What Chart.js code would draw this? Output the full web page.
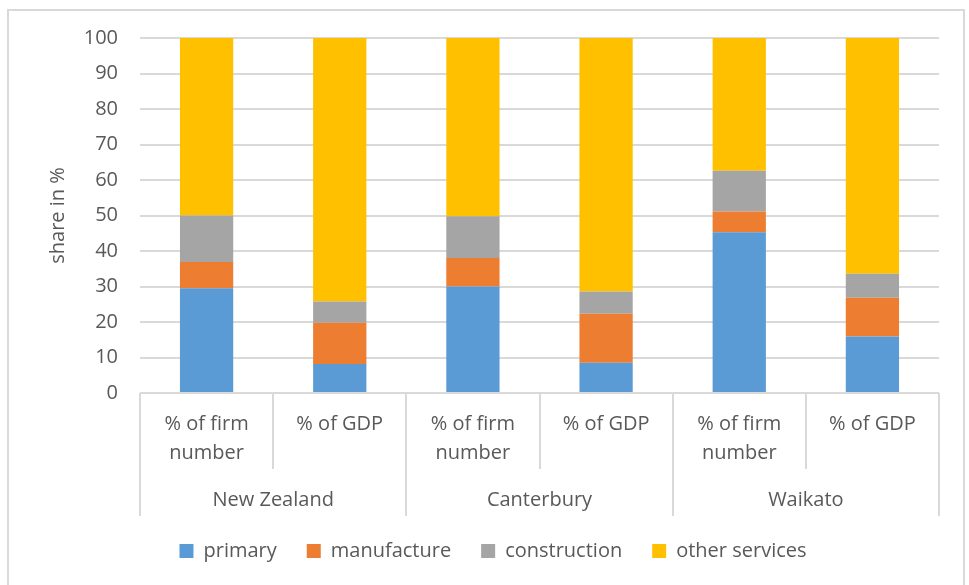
<!DOCTYPE html>
<html>
<head>
<meta charset="utf-8">
<script src="https://cdn.jsdelivr.net/npm/chart.js@4.4.0/dist/chart.umd.min.js"></script>
<style>
  html, body { margin: 0; padding: 0; background: #fff; }
  #wrap { position: relative; width: 969px; height: 585px; }
  #frame { position: absolute; left: 7px; top: 9px; width: 958px; height: 600px; border: 2px solid #d9d9d9; box-sizing: border-box; }
  canvas { position: absolute; left: 0; top: 0; }
</style>
</head>
<body>
<div id="wrap">
  <div id="frame"></div>
  <canvas id="myChart" width="969" height="585"></canvas>
</div>
<script>
const groups = ["New Zealand", "Canterbury", "Waikato"];
const measures = [["% of firm", "number"], ["% of GDP"]];
const seriesNames = ["primary", "manufacture", "construction", "other services"];

const primary = [29.5, 8.2, 30.0, 8.5, 45.3, 15.9];
const manufacture = [7.4, 11.6, 8.0, 13.8, 5.8, 10.9];
const construction = [13.1, 6.0, 11.8, 6.3, 11.5, 6.8];
const otherServices = [50.0, 74.2, 50.2, 71.4, 37.4, 66.4];

const yTicks = [0, 10, 20, 30, 40, 50, 60, 70, 80, 90, 100];

const colors = ["#5B9BD5", "#ED7D31", "#A5A5A5", "#FFC000"];
const textColor = "#595959";
const lineColor = "#d9d9d9";
const FONT = "'Open Sans'";

// one label per bar: group + measure
const labels = [];
groups.forEach((g) => measures.forEach((m) => labels.push(g + " " + m.join(" "))));

// draws the two-level category axis (measure row, then group row) with separators
const groupAxis = {
  id: "groupAxis",
  afterDraw(chart) {
    const { ctx, chartArea, scales } = chart;
    const x = scales.x;
    const top = chartArea.bottom;
    const mid = top + 76;
    const bottom = top + 123;
    const per = measures.length;
    const n = labels.length;
    const edge = (i) => {
      if (i === 0) return chartArea.left;
      if (i === n) return chartArea.right;
      return (x.getPixelForValue(i - 1) + x.getPixelForValue(i)) / 2;
    };

    ctx.save();
    ctx.strokeStyle = lineColor;
    ctx.lineWidth = 2;
    for (let i = 0; i <= n; i++) {
      const xx = Math.round(edge(i));
      ctx.beginPath();
      ctx.moveTo(xx, top);
      ctx.lineTo(xx, i % per === 0 ? bottom : mid);
      ctx.stroke();
    }

    ctx.fillStyle = textColor;
    ctx.font = "20px " + FONT;
    ctx.textAlign = "center";
    ctx.textBaseline = "middle";
    for (let i = 0; i < n; i++) {
      const lines = measures[i % per];
      const cx = x.getPixelForValue(i);
      lines.forEach((t, k) => ctx.fillText(t, cx, top + 31 + k * 29));
    }
    groups.forEach((g, j) => {
      const cx = (edge(j * per) + edge((j + 1) * per)) / 2;
      ctx.fillText(g, cx, top + 107);
    });
    ctx.restore();
  },
};

const datasets = [primary, manufacture, construction, otherServices].map((d, i) => ({
  label: seriesNames[i],
  data: d,
  backgroundColor: colors[i],
  borderWidth: 0,
  barPercentage: 0.4,
  categoryPercentage: 1.0,
}));

new Chart(document.getElementById("myChart"), {
  type: "bar",
  data: { labels, datasets },
  options: {
    responsive: false,
    animation: false,
    layout: { padding: { top: 38, right: 0, bottom: 14, left: 17 } },
    plugins: {
      tooltip: { enabled: false },
      legend: {
        position: "bottom",
        labels: {
          boxWidth: 14,
          boxHeight: 14,
          padding: 30,
          color: textColor,
          font: { family: FONT, size: 20 },
        },
      },
    },
    scales: {
      x: {
        stacked: true,
        grid: { display: false },
        border: { display: false },
        ticks: { display: false },
        afterFit: (scale) => { scale.height = 118; },
      },
      y: {
        stacked: true,
        min: 0,
        max: 100,
        afterBuildTicks: (scale) => { scale.ticks = yTicks.map((v) => ({ value: v })); },
        afterFit: (scale) => { scale.width = 123; },
        grid: { color: lineColor, lineWidth: 2, drawTicks: false },
        border: { display: false },
        ticks: { padding: 22, color: textColor, font: { family: FONT, size: 20 } },
        title: {
          display: true,
          text: "share in %",
          color: textColor,
          font: { family: FONT, size: 20 },
          padding: { top: 29, bottom: 0 },
        },
      },
      // empty right-hand box, only reserves the margin right of the plot
      spacer: {
        type: "linear",
        position: "right",
        grid: { display: false },
        border: { display: false },
        ticks: { display: false },
        afterFit: (scale) => { scale.width = 30; },
      },
    },
  },
  plugins: [groupAxis],
});
</script>
</body>
</html>
